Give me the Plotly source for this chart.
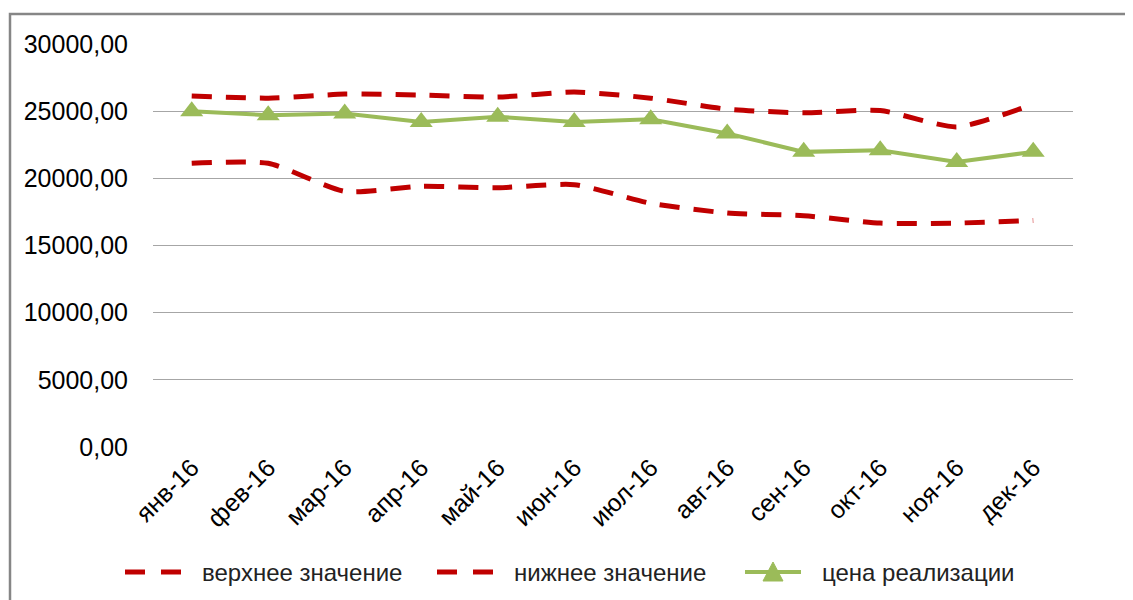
import plotly.graph_objects as go

months = ["янв-16", "фев-16", "мар-16", "апр-16", "май-16", "июн-16",
          "июл-16", "авг-16", "сен-16", "окт-16", "ноя-16", "дек-16"]
upper = [26120, 25970, 26270, 26200, 26050, 26420, 25970, 25150, 24880, 25050, 23830, 25520]
lower = [21120, 21120, 19030, 19400, 19300, 19530, 18140, 17420, 17220, 16670, 16670, 16870]
price = [25000, 24700, 24830, 24200, 24580, 24200, 24400, 23340, 21970, 22090, 21220, 21970]

y_tickvals = [0, 5000, 10000, 15000, 20000, 25000, 30000]
y_ticktext = ["0,00", "5000,00", "10000,00", "15000,00", "20000,00", "25000,00", "30000,00"]

series_names = ["верхнее значение", "нижнее значение", "цена реализации"]

RED = "#C00000"
GREEN = "#9BBB59"
FONT = "Liberation Sans"

fig = go.Figure()
fig.add_trace(go.Scatter(x=months, y=upper, mode="lines", name=series_names[0], showlegend=False,
                         line=dict(color=RED, width=5, dash="20px,14px", shape="spline", smoothing=0.6)))
fig.add_trace(go.Scatter(x=months, y=lower, mode="lines", name=series_names[1], showlegend=False,
                         line=dict(color=RED, width=5, dash="20px,14px", shape="spline", smoothing=0.6)))
fig.add_trace(go.Scatter(x=months, y=price, mode="lines+markers", name=series_names[2], showlegend=False,
                         line=dict(color=GREEN, width=4),
                         marker=dict(symbol="triangle-up", size=20, color=GREEN)))

W, H = 1133, 600
OFF = 8  # page offset of the figure
PL, PR, PT, PB = 153, 1073, 44, 447  # target plot area in screen px
pw, ph = PR - PL, PB - PT

def px(x):
    return (x - PL) / pw

def py(y):
    return (PB - y) / ph

shapes = [dict(type="path", xref="paper", yref="paper",
               path=f"M {px(10)} {py(640)} L {px(10)} {py(14)} L {px(1200)} {py(14)}",
               line=dict(color="#868686", width=2.5))]
annotations = []
LEG_Y = 572
LEG_FONT = dict(family=FONT, size=24, color="#222222")
# custom legend: dashed red items
for x0, name in [(125, series_names[0]), (437, series_names[1])]:
    for a, b in [(x0, x0 + 20), (x0 + 36, x0 + 56)]:
        shapes.append(dict(type="line", xref="paper", yref="paper",
                           x0=px(a), x1=px(b), y0=py(LEG_Y), y1=py(LEG_Y),
                           line=dict(color=RED, width=5)))
    annotations.append(dict(xref="paper", yref="paper", x=px(x0 + 75), y=py(LEG_Y),
                            text=name, showarrow=False, xanchor="left", yanchor="middle",
                            font=LEG_FONT))
# green item
gx = 745
shapes.append(dict(type="line", xref="paper", yref="paper",
                   x0=px(gx), x1=px(gx + 56), y0=py(LEG_Y), y1=py(LEG_Y),
                   line=dict(color=GREEN, width=4)))
cx = gx + 28
shapes.append(dict(type="path", xref="paper", yref="paper",
                   path=f"M {px(cx-10)} {py(LEG_Y+9)} L {px(cx+10)} {py(LEG_Y+9)} L {px(cx)} {py(LEG_Y-10)} Z",
                   fillcolor=GREEN, line=dict(color=GREEN, width=1)))
annotations.append(dict(xref="paper", yref="paper", x=px(gx + 75), y=py(LEG_Y),
                        text=series_names[2], showarrow=False, xanchor="left", yanchor="middle",
                        font=LEG_FONT))

fig.update_layout(
    width=W, height=H,
    margin=dict(l=PL - OFF, r=W - (PR - OFF), t=PT - OFF, b=H - (PB - OFF)),
    paper_bgcolor="white", plot_bgcolor="white",
    font=dict(family=FONT, size=23, color="#000000"),
    showlegend=False,
    xaxis=dict(showgrid=False, showline=False, ticks="", tickangle=-45, automargin=False,
               tickfont=dict(family=FONT, size=25), range=[-0.506, 11.52]),
    yaxis=dict(range=[0, 30000], tickvals=y_tickvals, ticktext=y_ticktext, automargin=False,
               showgrid=True, gridcolor="#A6A6A6", gridwidth=1.3, zeroline=False,
               showline=False, ticks="", ticklabelstandoff=24,
               tickfont=dict(family=FONT, size=25)),
    shapes=shapes,
    annotations=annotations,
)

fig.write_html("out.html")
